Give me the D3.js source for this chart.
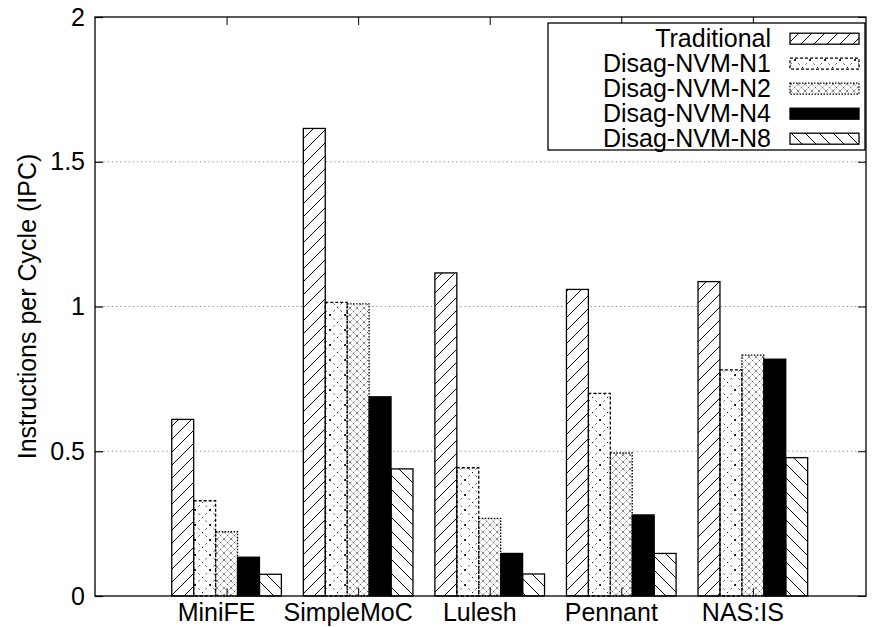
<!DOCTYPE html>
<html>
<head>
<meta charset="utf-8">
<script src="https://cdn.jsdelivr.net/npm/d3@7"></script>
<style>
  body { margin: 0; background: #fff; }
  text { font-family: "Liberation Sans", Arial, sans-serif; }
</style>
</head>
<body>
<div id="chart"></div>
<script>
// benchmarks and series
var benchmarks = ["MiniFE", "SimpleMoC", "Lulesh", "Pennant", "NAS:IS"];
var seriesNames = ["Traditional", "Disag-NVM-N1", "Disag-NVM-N2", "Disag-NVM-N4", "Disag-NVM-N8"];

var traditional = [0.610, 1.615, 1.116, 1.059, 1.086];
var nvmN1 = [0.329, 1.014, 0.443, 0.700, 0.781];
var nvmN2 = [0.222, 1.009, 0.268, 0.494, 0.832];
var nvmN4 = [0.134, 0.688, 0.147, 0.280, 0.818];
var nvmN8 = [0.075, 0.439, 0.076, 0.147, 0.478];

var yTicks = [0, 0.5, 1, 1.5, 2];
var yLabel = "Instructions per Cycle (IPC)";

var seriesValues = [traditional, nvmN1, nvmN2, nvmN4, nvmN8];

var W = 876, H = 627;
var plotL = 95, plotR = 866, plotT = 17, plotB = 596;
var fontSize = "25px";

var svg = d3.select("#chart").append("svg")
    .attr("width", W)
    .attr("height", H);

// fill patterns (gnuplot style)
var defs = svg.append("defs");

var p0 = defs.append("pattern").attr("id", "pat0")
    .attr("patternUnits", "userSpaceOnUse").attr("width", 13).attr("height", 13);
p0.append("path").attr("d", "M0,13 L13,0 M-3,3 L3,-3 M10,16 L16,10")
    .attr("stroke", "#000").attr("stroke-width", 1);

var p1 = defs.append("pattern").attr("id", "pat1")
    .attr("patternUnits", "userSpaceOnUse").attr("width", 15).attr("height", 15);
p1.append("path").attr("d", "M0,0 L15,15 M0,15 L15,0")
    .attr("stroke", "#111").attr("stroke-width", 1)
    .attr("stroke-dasharray", "1.5,3.5");

var p2 = defs.append("pattern").attr("id", "pat2")
    .attr("patternUnits", "userSpaceOnUse").attr("width", 7).attr("height", 7);
p2.append("path").attr("d", "M0,0 L7,7 M0,7 L7,0")
    .attr("stroke", "#444").attr("stroke-width", 0.9)
    .attr("stroke-dasharray", "1,1.2");

var p4 = defs.append("pattern").attr("id", "pat4")
    .attr("patternUnits", "userSpaceOnUse").attr("width", 14).attr("height", 14);
p4.append("path").attr("d", "M0,0 L14,14 M-3,11 L3,17 M11,-3 L17,3")
    .attr("stroke", "#000").attr("stroke-width", 1);

var fills = ["url(#pat0)", "url(#pat1)", "url(#pat2)", "#000", "url(#pat4)"];
var dashes = [null, "3,2", "1.5,1.5", null, null];

// scales
var x = d3.scaleLinear().domain([-1, 4.86]).range([plotL, plotR]);
var y = d3.scaleLinear().domain([0, 2]).range([plotB, plotT]);
var nS = seriesNames.length;
var slot = 1 / (nS + 1);
var bw = x(slot) - x(0);

// dotted grid
svg.append("g").selectAll("line")
    .data(yTicks.filter(function (d) { return d > 0 && d < 2; }))
    .enter().append("line")
    .attr("x1", plotL).attr("x2", plotR)
    .attr("y1", function (d) { return y(d); })
    .attr("y2", function (d) { return y(d); })
    .attr("stroke", "#888")
    .attr("stroke-width", 1)
    .attr("stroke-dasharray", "1.2,3");

// bars
var bars = [];
benchmarks.forEach(function (b, i) {
    seriesValues.forEach(function (vals, j) {
        bars.push({ i: i, j: j, value: vals[i] });
    });
});

svg.append("g").selectAll("rect")
    .data(bars)
    .enter().append("rect")
    .attr("x", function (d) { return x(d.i - nS * slot / 2 + d.j * slot); })
    .attr("y", function (d) { return y(d.value); })
    .attr("width", bw)
    .attr("height", function (d) { return y(0) - y(d.value); })
    .attr("fill", "#fff")
    .attr("stroke", "none");

svg.append("g").selectAll("rect")
    .data(bars)
    .enter().append("rect")
    .attr("x", function (d) { return x(d.i - nS * slot / 2 + d.j * slot); })
    .attr("y", function (d) { return y(d.value); })
    .attr("width", bw)
    .attr("height", function (d) { return y(0) - y(d.value); })
    .attr("fill", function (d) { return fills[d.j]; })
    .attr("stroke", "#000")
    .attr("stroke-width", 1.3)
    .attr("stroke-dasharray", function (d) { return dashes[d.j]; });

// border
svg.append("rect")
    .attr("x", plotL).attr("y", plotT)
    .attr("width", plotR - plotL).attr("height", plotB - plotT)
    .attr("fill", "none").attr("stroke", "#000").attr("stroke-width", 1.3);

// inward ticks, mirrored
var yAxisL = d3.axisLeft(y).tickValues(yTicks).tickSize(-8).tickFormat(d3.format("~g")).tickPadding(10);
var gy = svg.append("g").attr("transform", "translate(" + plotL + ",0)").call(yAxisL);
gy.select(".domain").remove();
gy.selectAll("text").style("font-size", fontSize).attr("fill", "#000");
gy.selectAll("line").attr("stroke-width", 1.2);

var gyR = svg.append("g").attr("transform", "translate(" + plotR + ",0)")
    .call(d3.axisRight(y).tickValues(yTicks).tickSize(-8).tickFormat(""));
gyR.select(".domain").remove();

var gxT = svg.append("g").attr("transform", "translate(0," + plotT + ")")
    .call(d3.axisTop(x).tickValues(d3.range(benchmarks.length)).tickSize(-8).tickFormat(""));
gxT.select(".domain").remove();

var gxB = svg.append("g").attr("transform", "translate(0," + plotB + ")")
    .call(d3.axisBottom(x).tickValues(d3.range(benchmarks.length)).tickSize(-8)
        .tickFormat(function (d) { return benchmarks[d]; }).tickPadding(0));
gxB.select(".domain").remove();
gxB.selectAll("text")
    .style("font-size", fontSize)
    .attr("fill", "#000")
    .attr("dy", null)
    .attr("y", 25)
    .attr("x", -10.5);

// y label
svg.append("text")
    .attr("transform", "translate(36," + ((plotT + plotB) / 2) + ") rotate(-90)")
    .attr("text-anchor", "middle")
    .style("font-size", fontSize)
    .text(yLabel);

// legend
var leg = svg.append("g");
leg.append("rect")
    .attr("x", 548).attr("y", 23).attr("width", 317).attr("height", 127)
    .attr("fill", "#fff").attr("stroke", "#000").attr("stroke-width", 1.3);

seriesNames.forEach(function (name, j) {
    var cy = 38.7 + j * 25;
    leg.append("text")
        .attr("x", 771).attr("y", cy + 8.5)
        .attr("text-anchor", "end")
        .style("font-size", fontSize)
        .text(name);
    leg.append("rect")
        .attr("x", 790).attr("y", cy - 5.5).attr("width", 69).attr("height", 11)
        .attr("fill", "#fff");
    leg.append("rect")
        .attr("x", 790).attr("y", cy - 5.5).attr("width", 69).attr("height", 11)
        .attr("fill", fills[j])
        .attr("stroke", "#000").attr("stroke-width", 1.3)
        .attr("stroke-dasharray", dashes[j]);
});
</script>
</body>
</html>
